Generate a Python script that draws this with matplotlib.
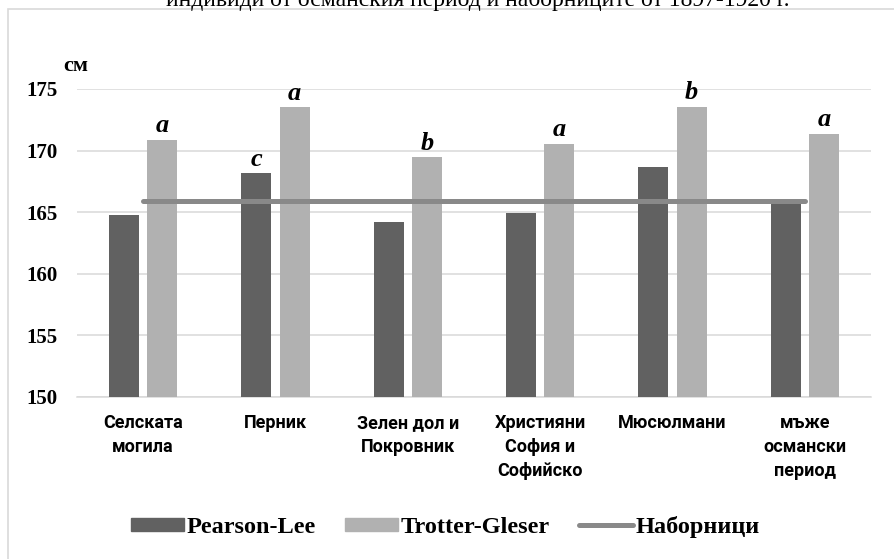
# Recreate bar chart: stature estimates (Pearson-Lee vs Trotter-Gleser) vs conscripts
import numpy as np
import matplotlib
matplotlib.use("Agg")
import matplotlib.pyplot as plt
from matplotlib.patches import Rectangle, Patch
from matplotlib.lines import Line2D

CATEGORIES = ["Селската\nмогила", "Перник", "Зелен дол и\nПокровник",
              "Християни\nСофия и\nСофийско", "Мюсюлмани", "мъже\nосмански\nпериод"]
PEARSON_LEE = [164.8, 168.15, 164.2, 164.9, 168.65, 165.8]
TROTTER_GLESER = [170.85, 173.5, 169.45, 170.55, 173.55, 171.35]
CONSCRIPTS = [165.9] * 6
PL_LETTERS = ["", "c", "", "", "", ""]
TG_LETTERS = ["a", "a", "b", "a", "b", "a"]

SERIF = ["Liberation Serif", "DejaVu Serif"]
SANS = ["Roboto", "DejaVu Sans"]

DARK = "#616161"
LIGHT = "#b1b1b1"
LINE = "#898989"
GRID = "#d9d9d9"

W, H = 894, 559
fig = plt.figure(figsize=(W / 100, H / 100), dpi=100)
ax = fig.add_axes([77 / W, 1 - 397 / H, 794 / W, 308 / H])

x = np.arange(len(CATEGORIES))
bw = 0.225
off = 0.145
ax.bar(x - off, PEARSON_LEE, bw, color=DARK, zorder=2)
ax.bar(x + off, TROTTER_GLESER, bw, color=LIGHT, zorder=2)
ax.plot(x, CONSCRIPTS, color=LINE, lw=3.6, solid_capstyle="round", zorder=3)

def letter(xpos, ypos, s):
    ax.annotate(s, (xpos, ypos), xytext=(0, 2), textcoords="offset points",
                ha="center", va="bottom", fontsize=19, fontweight="bold",
                fontstyle="italic", family=SERIF, annotation_clip=False)

for i in range(len(CATEGORIES)):
    if PL_LETTERS[i]:
        letter(x[i] - off, PEARSON_LEE[i], PL_LETTERS[i])
    if TG_LETTERS[i]:
        letter(x[i] + off, TROTTER_GLESER[i], TG_LETTERS[i])

ax.set_xlim(-0.5, len(CATEGORIES) - 0.5)
ax.set_ylim(150, 175)
ax.set_yticks(np.arange(150, 176, 5))
ax.set_xticks(x)
ax.set_xticklabels(CATEGORIES, family=SANS, fontweight="bold", fontsize=13,
                   linespacing=1.45, va="top")
for lab in ax.get_yticklabels():
    lab.set_family(SERIF)
    lab.set_fontweight("bold")
    lab.set_fontsize(15)
ax.tick_params(axis="y", length=0, pad=14)
ax.tick_params(axis="x", length=0, pad=12)
ax.yaxis.grid(True, color=GRID, lw=1.1, zorder=0)
ax.set_axisbelow(True)
for s in ["top", "right", "left"]:
    ax.spines[s].set_visible(False)
ax.spines["bottom"].set_color(GRID)
ax.spines["bottom"].set_linewidth(1.1)
ax.spines["bottom"].set_zorder(1)

fig.text(63 / W, 1 - 66 / H, "см", family=SERIF, fontweight="bold", fontsize=16,
         va="center", ha="left")

# clipped caption text from the page above the chart
fig.text(478 / W, 1 - 6 / H, "индивиди от османския период и наборниците от 1897-1920 г.",
         family=SERIF, fontsize=17, ha="center", va="baseline")

# chart frame
fig.patches.append(Rectangle((8 / W, -0.1), 1.2, 1 - 9 / H + 0.1, transform=fig.transFigure,
                             facecolor="none", edgecolor=GRID, lw=1.2))

handles = [Patch(color=DARK), Patch(color=LIGHT),
           Line2D([], [], color=LINE, lw=3.6, solid_capstyle="round")]
fig.legend(handles, ["Pearson-Lee", "Trotter-Gleser", "Наборници"],
           loc="center", bbox_to_anchor=(445 / W, 1 - 527 / H), ncol=3, frameon=False,
           prop={"family": SERIF, "weight": "bold", "size": 17.5},
           handlelength=2.2, handleheight=0.45, handletextpad=0.1, columnspacing=1.2)

fig.savefig("out.png", dpi=100)
